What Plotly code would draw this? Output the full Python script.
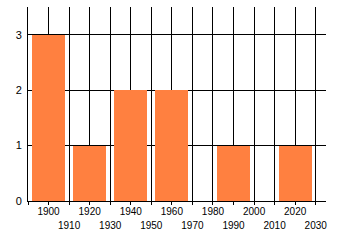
import plotly.graph_objects as go

years = [1900, 1920, 1940, 1960, 1990, 2020]
counts = [3, 1, 2, 2, 1, 1]
even_ticks = [1900, 1920, 1940, 1960, 1980, 2000, 2020]
odd_ticks = [1910, 1930, 1950, 1970, 1990, 2010, 2030]
all_ticks = list(range(1890, 2031, 10))
y_ticks = [0, 1, 2, 3]

fnt = dict(family="Liberation Sans, Arial, sans-serif", size=10, color="#000000")

fig = go.Figure()
fig.add_trace(go.Bar(x=years, y=counts, width=16, marker=dict(color="#FF8040", line=dict(width=0)),
                     showlegend=False))
# invisible trace for the secondary x axis (odd-decade labels)
fig.add_trace(go.Scatter(x=[1890, 2035], y=[0, 0], xaxis="x2", mode="lines",
                         line=dict(width=0), hoverinfo="skip", showlegend=False))

fig.update_layout(
    width=340, height=245,
    margin=dict(l=28, r=14, t=7, b=44),
    paper_bgcolor="white", plot_bgcolor="white",
    font=fnt,
    xaxis=dict(range=[1890, 2035], tickmode="array", tickvals=all_ticks,
               ticktext=[str(t) if t in even_ticks else "" for t in all_ticks],
               showgrid=True, gridcolor="black", gridwidth=1,
               ticks="outside", ticklen=3, tickcolor="black", tickwidth=1,
               showline=True, linecolor="black", linewidth=1,
               zeroline=False, tickfont=fnt, ticklabelstandoff=-2, fixedrange=True),
    xaxis2=dict(range=[1890, 2035], overlaying="x", anchor="y", side="bottom",
                tickmode="array", tickvals=odd_ticks, ticktext=[str(t) for t in odd_ticks],
                showgrid=False, ticks="", showline=False, zeroline=False,
                ticklabelstandoff=17, tickfont=fnt),
    yaxis=dict(range=[0, 3.5], tickmode="array", tickvals=y_ticks,
               showgrid=True, gridcolor="black", gridwidth=1,
               showline=True, linecolor="black", linewidth=1,
               zeroline=False, ticks="", tickfont=dict(family=fnt["family"], size=11, color="#000"),
               ticklabelstandoff=3),
    bargap=0,
)

fig.write_html("out.html")
